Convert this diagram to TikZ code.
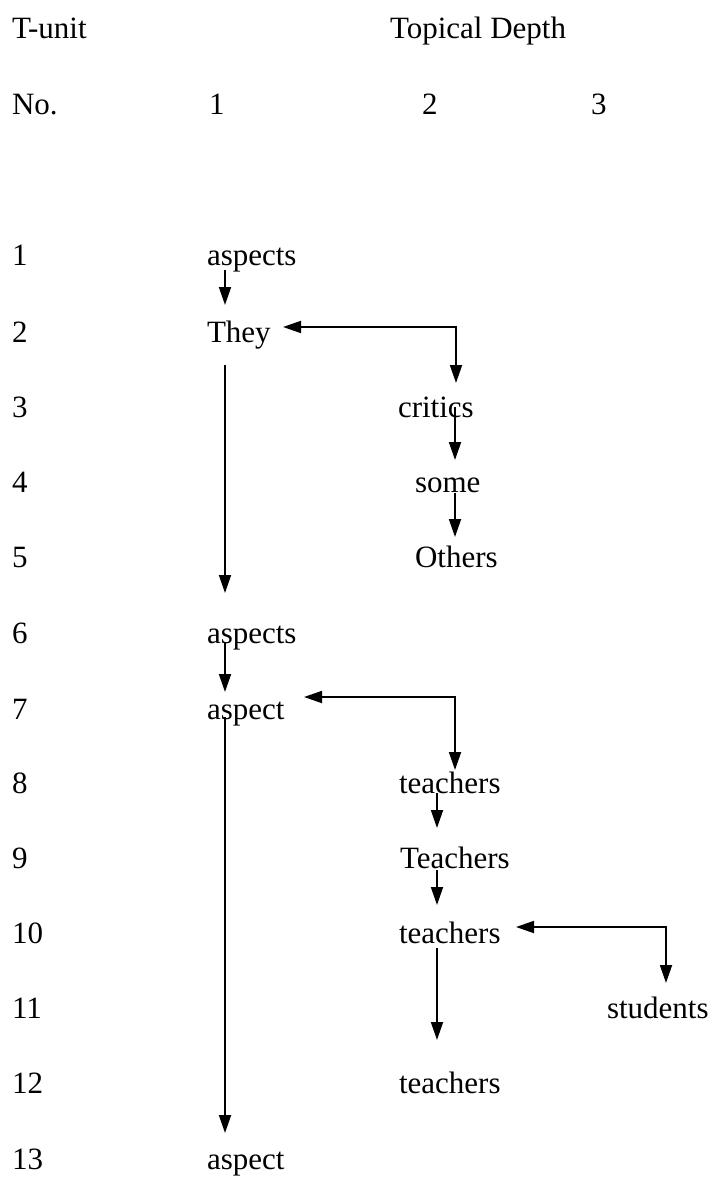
\documentclass[tikz,border=0pt]{standalone}
\usepackage{fontspec}
\setmainfont{Liberation Serif}
\usetikzlibrary{arrows.meta,calc}
\tikzset{
  lbl/.style={anchor=base west, inner sep=0pt, outer sep=0pt,
              font=\fontsize{15.5pt}{18pt}\selectfont},
  arr/.style={draw=black, line width=0.9pt,
              -{Triangle[length=9pt,width=6pt]}},
  darr/.style={draw=black, line width=0.9pt,
              {Triangle[length=9pt,width=6pt]}-{Triangle[length=9pt,width=6pt]}}
}
\begin{document}
\begin{tikzpicture}[x=0.5pt, y=-0.5pt]
\useasboundingbox (0,0) rectangle (713,1178);

% column headings
\node[lbl] (hunit)  at (12,39)  {T-unit};
\node[lbl] (hdepth) at (390,39) {Topical Depth};
\node[lbl] (hno)    at (12,114) {No.};
\node[lbl] (hone)   at (209,114) {1};
\node[lbl] (htwo)   at (422,114) {2};
\node[lbl] (hthree) at (591,114) {3};

% T-unit numbers
\foreach \n/\y in {1/265,2/342,3/417,4/492,5/567,6/643,7/719,8/793,9/868,10/943,11/1018,12/1093,13/1169}
  \node[lbl] (r\n) at (12,\y) {\n};

% topics
\node[lbl] (asp1)  at (207,265)  {aspects};
\node[lbl] (they)  at (207,342)  {They};
\node[lbl] (crit)  at (398,417)  {critics};
\node[lbl] (some)  at (415,492)  {some};
\node[lbl] (oth)   at (415,567)  {Others};
\node[lbl] (asp6)  at (207,643)  {aspects};
\node[lbl] (asp7)  at (207,719)  {aspect};
\node[lbl] (tea8)  at (399,793)  {teachers};
\node[lbl] (tea9)  at (400,868)  {Teachers};
\node[lbl] (tea10) at (399,943)  {teachers};
\node[lbl] (stud)  at (607,1018) {students};
\node[lbl] (tea12) at (399,1093) {teachers};
\node[lbl] (asp13) at (207,1169) {aspect};

% progressions
\draw[arr] ($(asp1.base west)+(18,5)$) -- ($(they.base west)+(18,-37)$);
\draw[darr] ($(they.base west)+(76,-15)$) -| ($(crit.base west)+(58,-34)$);
\draw[arr] ($(they.base west)+(18,23)$) -- ($(asp6.base west)+(18,-50)$);
\draw[arr] ($(crit.base west)+(57,-10)$) -- ($(some.base west)+(40,-32)$);
\draw[arr] ($(some.base west)+(40,1)$) -- ($(oth.base west)+(40,-30)$);
\draw[arr] ($(asp6.base west)+(18,-1)$) -- ($(asp7.base west)+(18,-27)$);
\draw[darr] ($(asp7.base west)+(97,-22)$) -| ($(tea8.base west)+(56,-23)$);
\draw[arr] ($(asp7.base west)+(18,-2)$) -- ($(asp13.base west)+(18,-36)$);
\draw[arr] ($(tea8.base west)+(38,0)$) -- ($(tea9.base west)+(37,-40)$);
\draw[arr] ($(tea9.base west)+(37,2)$) -- ($(tea10.base west)+(38,-38)$);
\draw[darr] ($(tea10.base west)+(117,-16)$) -| ($(stud.base west)+(59,-35)$);
\draw[arr] ($(tea10.base west)+(38,5)$) -- ($(tea12.base west)+(38,-53)$);
\end{tikzpicture}
\end{document}
